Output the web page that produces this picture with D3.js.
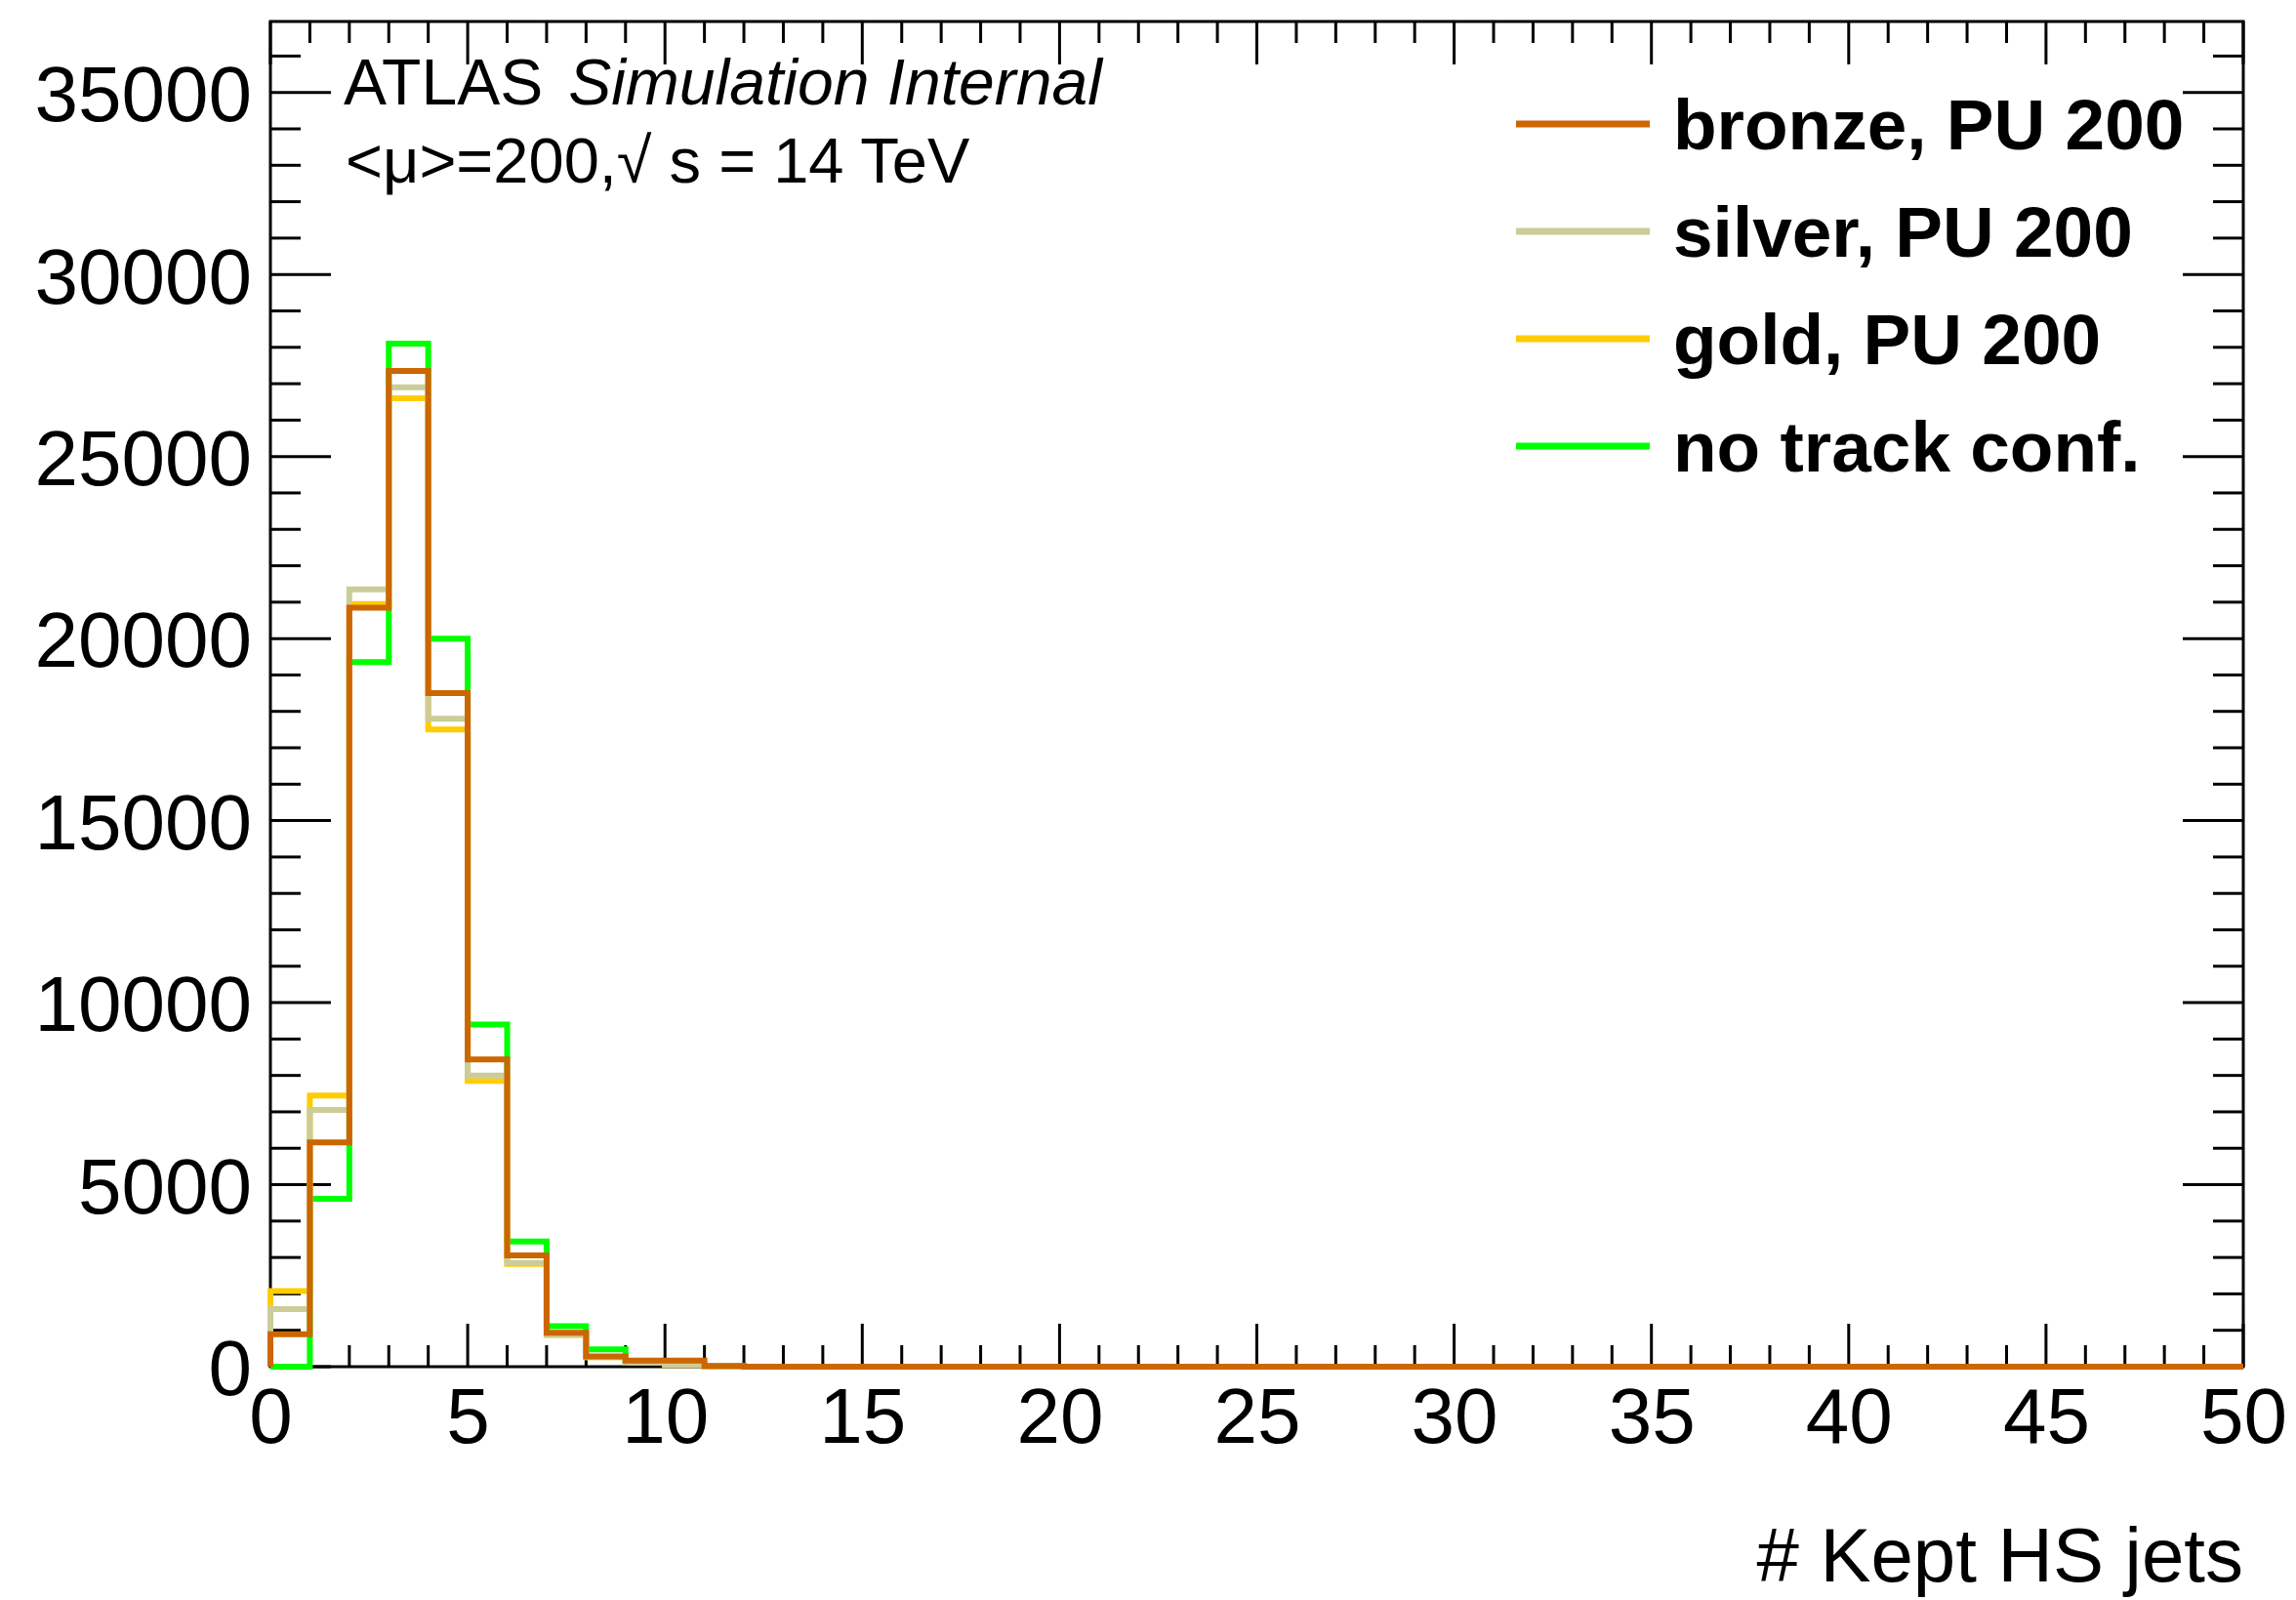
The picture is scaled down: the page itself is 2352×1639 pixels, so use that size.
<!DOCTYPE html>
<html>
<head>
<meta charset="utf-8">
<script src="https://cdn.jsdelivr.net/npm/d3@7"></script>
<style>
  html, body { margin: 0; padding: 0; background: #fff; }
  svg { display: block; }
  text { font-family: "Liberation Sans", Arial, Helvetica, sans-serif; fill: #000; }
</style>
</head>
<body>
<svg id="chart" width="2352" height="1639"></svg>
<script>
// Number of kept hard-scatter jets per event, one-unit bins from 0 to 50
const binEdgesMin = 0;
const binEdgesMax = 50;

const bronze = [890, 6160, 20850, 27350, 18500, 8440, 3060, 930, 280, 170,
                170, 20, 0, 0, 0, 0, 0, 0, 0, 0,
                0, 0, 0, 0, 0, 0, 0, 0, 0, 0,
                0, 0, 0, 0, 0, 0, 0, 0, 0, 0,
                0, 0, 0, 0, 0, 0, 0, 0, 0, 0];
const silver = [1580, 7050, 21350, 26900, 17800, 8000, 2850, 880, 260, 120,
                60, 15, 0, 0, 0, 0, 0, 0, 0, 0,
                0, 0, 0, 0, 0, 0, 0, 0, 0, 0,
                0, 0, 0, 0, 0, 0, 0, 0, 0, 0,
                0, 0, 0, 0, 0, 0, 0, 0, 0, 0];
const gold   = [2080, 7450, 20950, 26600, 17500, 7850, 2820, 870, 260, 120,
                50, 10, 0, 0, 0, 0, 0, 0, 0, 0,
                0, 0, 0, 0, 0, 0, 0, 0, 0, 0,
                0, 0, 0, 0, 0, 0, 0, 0, 0, 0,
                0, 0, 0, 0, 0, 0, 0, 0, 0, 0];
const noTrackConf = [0, 4610, 19350, 28100, 20000, 9400, 3440, 1110, 475, 150,
                60, 10, 0, 0, 0, 0, 0, 0, 0, 0,
                0, 0, 0, 0, 0, 0, 0, 0, 0, 0,
                0, 0, 0, 0, 0, 0, 0, 0, 0, 0,
                0, 0, 0, 0, 0, 0, 0, 0, 0, 0];

const seriesLabels = ["bronze, PU 200", "silver, PU 200", "gold, PU 200", "no track conf."];
const seriesColors = ["#cc6600", "#cccc99", "#ffcc00", "#00ff00"];

const xTickValues = [0, 5, 10, 15, 20, 25, 30, 35, 40, 45, 50];
const yTickValues = [0, 5000, 10000, 15000, 20000, 25000, 30000, 35000];
const yMax = 36950;

const xTitle = "# Kept HS jets";
const atlasLabel = "ATLAS";
const atlasSub = "Simulation Internal";
const conditionsLabel = "<\u03bc>=200,\u221a s = 14 TeV";

// Frame geometry
const frame = { left: 277, right: 2298, top: 22, bottom: 1400 };

const svg = d3.select("#chart");

const x = d3.scaleLinear().domain([binEdgesMin, binEdgesMax]).range([frame.left, frame.right]);
const y = d3.scaleLinear().domain([0, yMax]).range([frame.bottom, frame.top]);

const majorLenY = 62, minorLenY = 31;
const majorLenX = 44, minorLenX = 22;

// Frame box
svg.append("rect")
  .attr("x", frame.left).attr("y", frame.top)
  .attr("width", frame.right - frame.left).attr("height", frame.bottom - frame.top)
  .attr("fill", "none").attr("stroke", "#000").attr("stroke-width", 3);

// Tick marks on all four sides
const xMinor = d3.range(binEdgesMin, binEdgesMax + 1, 1);
const yMinor = d3.range(0, yMax, 1000);
const ticks = svg.append("g").attr("stroke", "#000").attr("stroke-width", 3);

xMinor.forEach(v => {
  const len = (v % 5 === 0) ? majorLenX : minorLenX;
  ticks.append("line").attr("x1", x(v)).attr("x2", x(v)).attr("y1", frame.bottom).attr("y2", frame.bottom - len);
  ticks.append("line").attr("x1", x(v)).attr("x2", x(v)).attr("y1", frame.top).attr("y2", frame.top + len);
});
yMinor.forEach(v => {
  const len = (v % 5000 === 0) ? majorLenY : minorLenY;
  ticks.append("line").attr("x1", frame.left).attr("x2", frame.left + len).attr("y1", y(v)).attr("y2", y(v));
  ticks.append("line").attr("x1", frame.right).attr("x2", frame.right - len).attr("y1", y(v)).attr("y2", y(v));
});

// Tick labels via d3 axes (lines hidden, labels kept)
const xAxis = d3.axisBottom(x).tickValues(xTickValues).tickSize(0).tickPadding(0).tickFormat(d3.format("d"));
const gx = svg.append("g").attr("transform", `translate(0,${frame.bottom})`).call(xAxis);
gx.select(".domain").remove();
gx.selectAll("text")
  .attr("y", 78).attr("dy", null)
  .style("font-family", '"Liberation Sans", Arial, sans-serif')
  .style("font-size", "80px").attr("fill", "#000");

const yAxis = d3.axisLeft(y).tickValues(yTickValues).tickSize(0).tickPadding(0).tickFormat(d3.format("d"));
const gy = svg.append("g").attr("transform", `translate(${frame.left},0)`).call(yAxis);
gy.select(".domain").remove();
gy.selectAll("text")
  .attr("x", -19).attr("dy", "0.36em")
  .style("font-family", '"Liberation Sans", Arial, sans-serif')
  .style("font-size", "80px").attr("fill", "#000");

// Histograms as step outlines, drawn back to front
const allSeries = [bronze, silver, gold, noTrackConf];
const drawOrder = [3, 2, 1, 0];

function stepPoints(values) {
  const pts = [[binEdgesMin, 0]];
  values.forEach((v, i) => {
    pts.push([binEdgesMin + i, v]);
    pts.push([binEdgesMin + i + 1, v]);
  });
  pts.push([binEdgesMax, 0]);
  return pts;
}

const line = d3.line().x(d => x(d[0])).y(d => y(d[1]));

drawOrder.forEach(k => {
  svg.append("path")
    .datum(stepPoints(allSeries[k]))
    .attr("d", line)
    .attr("fill", "none")
    .attr("stroke", seriesColors[k])
    .attr("stroke-width", 6)
    .attr("stroke-linejoin", "miter");
});

// Legend
const legend = svg.append("g");
const legendRows = [127, 237, 347, 457];
seriesLabels.forEach((lab, i) => {
  legend.append("line")
    .attr("x1", 1553).attr("x2", 1690)
    .attr("y1", legendRows[i]).attr("y2", legendRows[i])
    .attr("stroke", seriesColors[i]).attr("stroke-width", 7);
  legend.append("text")
    .attr("x", 1714).attr("y", legendRows[i]).attr("dy", "0.36em")
    .style("font-size", "73px").style("font-weight", "bold")
    .text(lab);
});

// Experiment label
const lbl = svg.append("text").attr("x", 352).attr("y", 107).style("font-size", "66px");
lbl.append("tspan").text(atlasLabel);
lbl.append("tspan").attr("dx", 26).style("font-style", "italic").text(atlasSub);

svg.append("text").attr("x", 354).attr("y", 187).style("font-size", "65px").text(conditionsLabel);

// Axis title
svg.append("text")
  .attr("x", frame.right).attr("y", 1620)
  .attr("text-anchor", "end")
  .style("font-size", "78px")
  .text(xTitle);
</script>
</body>
</html>
